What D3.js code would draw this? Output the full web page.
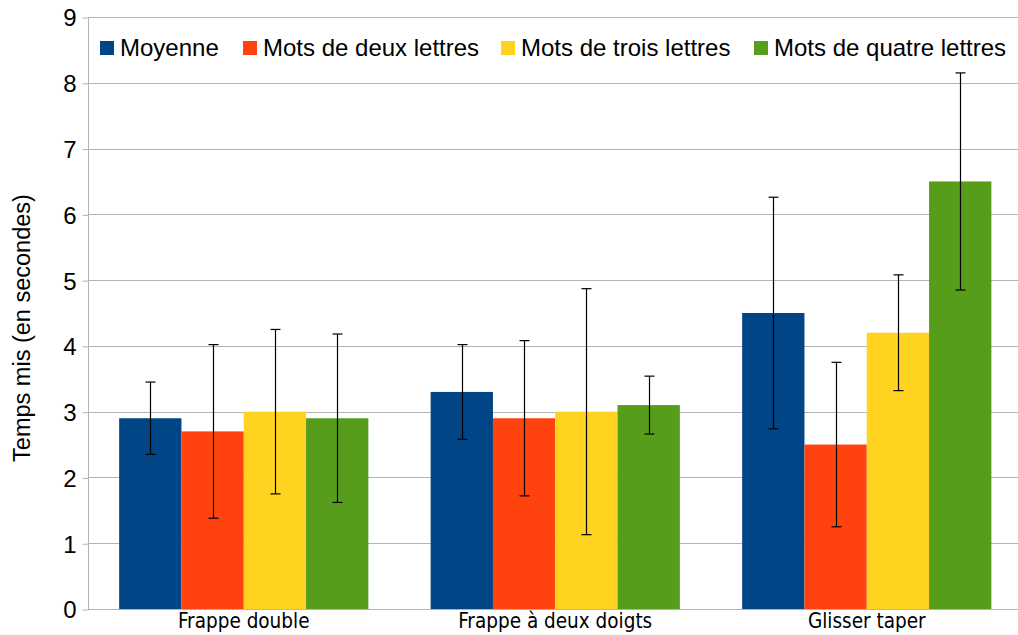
<!DOCTYPE html>
<html>
<head>
<meta charset="utf-8">
<script src="https://cdnjs.cloudflare.com/ajax/libs/d3/7.8.5/d3.min.js"></script>
<style>
  body { margin: 0; background: #fff; }
  .grid line { stroke: #b3b3b3; stroke-width: 1; }
  .tick text { font-family: "Liberation Sans", Arial, sans-serif; fill: #000; }
  .errbar { stroke: #000; stroke-width: 1.2; }
</style>
</head>
<body>
<svg width="1018" height="635"></svg>
<script>
  // data
  var categories = ["Frappe double", "Frappe à deux doigts", "Glisser taper"];
  var series = ["Moyenne", "Mots de deux lettres", "Mots de trois lettres", "Mots de quatre lettres"];
  var colors = ["#004586", "#ff420e", "#ffd320", "#579d1c"];
  var moyenne = [2.9, 3.3, 4.5];
  var deuxLettres = [2.7, 2.9, 2.5];
  var troisLettres = [3.0, 3.0, 4.2];
  var quatreLettres = [2.9, 3.1, 6.5];
  // error (+/-) for each series
  var errMoyenne = [0.55, 0.72, 1.76];
  var errDeux = [1.32, 1.18, 1.25];
  var errTrois = [1.25, 1.87, 0.88];
  var errQuatre = [1.28, 0.44, 1.65];
  var yTicks = [0, 1, 2, 3, 4, 5, 6, 7, 8, 9];

  var values = [moyenne, deuxLettres, troisLettres, quatreLettres];
  var errors = [errMoyenne, errDeux, errTrois, errQuatre];

  var mLeft = 88, mRight = 1018, mTop = 17, mBottom = 609;
  var svg = d3.select("svg");

  // plot area runs a little past the picture's right edge
  var x = d3.scaleBand().domain(categories).range([mLeft, 1022.5]).paddingInner(0.2).paddingOuter(0.1);
  var xs = d3.scaleBand().domain(series).range([0, x.bandwidth()]);
  var y = d3.scaleLinear().domain([0, 9]).range([mBottom, mTop]);

  // gridlines
  svg.append("g").attr("class", "grid")
    .selectAll("line").data(yTicks.slice(1)).enter().append("line")
    .attr("x1", mLeft).attr("x2", mRight)
    .attr("y1", d => Math.round(y(d)) + 0.5).attr("y2", d => Math.round(y(d)) + 0.5);

  // y axis
  var yAxis = svg.append("g").attr("transform", "translate(" + (mLeft + 0.5) + ",0.5)")
    .call(d3.axisLeft(y).tickValues(yTicks).tickSize(6).tickPadding(6));
  yAxis.selectAll("text").style("font-size", "24px").attr("dy", "0.35em");
  yAxis.selectAll("line, path").attr("stroke", "#b3b3b3");
  yAxis.select(".domain").attr("d", "M0," + mTop + "V" + mBottom);

  // bars
  var rows = [];
  categories.forEach((c, i) => series.forEach((s, j) => rows.push({c: c, s: s, v: values[j][i], e: errors[j][i], k: j})));

  svg.append("g").selectAll("rect").data(rows).enter().append("rect")
    .attr("x", d => x(d.c) + xs(d.s))
    .attr("width", xs.bandwidth())
    .attr("y", d => y(d.v))
    .attr("height", d => y(0) - y(d.v))
    .attr("fill", d => colors[d.k]);

  // error bars
  var eb = svg.append("g").selectAll("g").data(rows).enter().append("g")
    .attr("transform", d => "translate(" + (Math.round(x(d.c) + xs(d.s) + xs.bandwidth() / 2) + 0.5) + ",0)");
  eb.append("line").attr("class", "errbar")
    .attr("y1", d => y(d.v - d.e)).attr("y2", d => y(d.v + d.e));
  eb.append("line").attr("class", "errbar").attr("x1", -5).attr("x2", 5)
    .attr("y1", d => y(d.v + d.e)).attr("y2", d => y(d.v + d.e));
  eb.append("line").attr("class", "errbar").attr("x1", -5).attr("x2", 5)
    .attr("y1", d => y(d.v - d.e)).attr("y2", d => y(d.v - d.e));

  // x axis line
  svg.append("line").attr("x1", mLeft).attr("x2", mRight)
    .attr("y1", mBottom + 0.5).attr("y2", mBottom + 0.5).attr("stroke", "#b3b3b3");

  // category labels
  svg.append("g").selectAll("text").data(categories).enter().append("text")
    .attr("x", d => x(d) + x.bandwidth() / 2)
    .attr("y", 628)
    .attr("text-anchor", "middle")
    .style("font-family", "'DejaVu Sans Condensed', 'Liberation Sans Narrow', sans-serif")
    .style("font-size", "20.5px")
    .text(d => d);

  // y axis title
  svg.append("text")
    .attr("transform", "translate(30,328) rotate(-90)")
    .attr("text-anchor", "middle")
    .style("font-family", "'Liberation Sans', Arial, sans-serif")
    .style("font-size", "23.5px")
    .text("Temps mis (en secondes)");

  // legend
  var legendX = [100, 243, 501, 754];
  var lg = svg.append("g").selectAll("g").data(series).enter().append("g")
    .attr("transform", (d, i) => "translate(" + legendX[i] + ",41)");
  lg.append("rect").attr("width", 14).attr("height", 14).attr("fill", (d, i) => colors[i]);
  lg.append("text").attr("x", 20).attr("y", 15)
    .style("font-family", "'Liberation Sans', Arial, sans-serif")
    .style("font-size", "24px")
    .text(d => d);
</script>
</body>
</html>
